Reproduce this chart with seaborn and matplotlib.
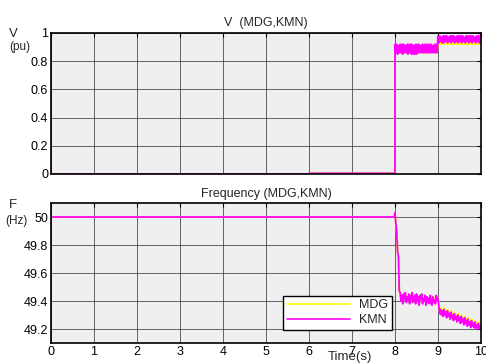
import numpy as np
import pandas as pd
import matplotlib
matplotlib.use("Agg")
import matplotlib.pyplot as plt
import seaborn as sns

# ---------------- data ----------------
# Voltage (pu): step points before 8 s, then sampled noisy segments
v_pre_t = [0.0, 6.0, 6.0, 8.0]
v_pre_kmn = [0.0, 0.0, 0.005, 0.005]
v_pre_mdg = [0.0, 0.0, 0.005, 0.005]

v_seg1_kmn = [0.92, 0.86, 0.92, 0.85, 0.91, 0.86, 0.92, 0.86, 0.92, 0.85, 0.92, 0.86, 0.91, 0.86,
              0.92, 0.85, 0.92, 0.86, 0.92, 0.85, 0.92, 0.85, 0.91, 0.85, 0.92, 0.85, 0.92, 0.86,
              0.92, 0.86, 0.91, 0.86, 0.92, 0.86, 0.92, 0.86, 0.92, 0.86, 0.92, 0.86, 0.92, 0.86,
              0.92, 0.86, 0.91, 0.86, 0.92, 0.86, 0.92, 0.86]
v_seg1_mdg = [0.91, 0.86, 0.91, 0.86, 0.91, 0.86, 0.91, 0.86, 0.91, 0.86, 0.91, 0.86, 0.91, 0.86,
              0.91, 0.86, 0.91, 0.86, 0.91, 0.86, 0.91, 0.86, 0.91, 0.86, 0.91, 0.86, 0.91, 0.86,
              0.91, 0.86, 0.91, 0.86, 0.91, 0.86, 0.91, 0.86, 0.91, 0.86, 0.91, 0.86, 0.91, 0.86,
              0.91, 0.86, 0.91, 0.86, 0.91, 0.86, 0.91, 0.86]
v_seg2_kmn = [0.98, 0.93, 0.98, 0.94, 0.97, 0.93, 0.98, 0.93, 0.98, 0.94, 0.98, 0.93, 0.97, 0.94,
              0.98, 0.93, 0.98, 0.94, 0.98, 0.93, 0.97, 0.94, 0.98, 0.93, 0.98, 0.94, 0.98, 0.93,
              0.98, 0.94, 0.97, 0.93, 0.98, 0.94, 0.98, 0.93, 0.98, 0.94, 0.98, 0.93, 0.98, 0.94,
              0.97, 0.93, 0.98, 0.94, 0.98, 0.93, 0.98, 0.93]
v_seg2_mdg = [0.96, 0.92, 0.96, 0.92, 0.96, 0.92, 0.96, 0.92, 0.96, 0.92, 0.96, 0.92, 0.96, 0.92,
              0.96, 0.92, 0.96, 0.92, 0.96, 0.92, 0.96, 0.92, 0.96, 0.92, 0.96, 0.92, 0.96, 0.92,
              0.96, 0.92, 0.96, 0.92, 0.96, 0.92, 0.96, 0.92, 0.96, 0.92, 0.96, 0.92, 0.96, 0.92,
              0.96, 0.92, 0.96, 0.92, 0.96, 0.92, 0.96, 0.92]

# Frequency (Hz)
f_pre_t = [0.0, 7.98, 8.00, 8.02, 8.04, 8.06, 8.08, 8.10]
f_pre_kmn = [50.0, 50.0, 50.03, 49.95, 49.90, 49.75, 49.72, 49.47]
f_pre_mdg = [50.0, 50.0, 50.02, 49.95, 49.90, 49.75, 49.72, 49.47]

f_seg1_kmn = [49.46, 49.40, 49.44, 49.38, 49.45, 49.41, 49.46, 49.39, 49.43, 49.40, 49.45, 49.38,
              49.44, 49.41, 49.46, 49.39, 49.42, 49.44, 49.38, 49.45, 49.40, 49.43, 49.37, 49.44,
              49.41, 49.45, 49.38, 49.42, 49.40, 49.44, 49.37, 49.43, 49.39, 49.42, 49.38, 49.44,
              49.40, 49.37, 49.43, 49.39, 49.41, 49.38, 49.44, 49.40, 49.42]
f_seg1_mdg = [49.45, 49.41, 49.44, 49.39, 49.45, 49.42, 49.45, 49.40, 49.43, 49.41, 49.44, 49.39,
              49.44, 49.42, 49.45, 49.40, 49.43, 49.44, 49.39, 49.44, 49.41, 49.43, 49.38, 49.44,
              49.42, 49.44, 49.39, 49.43, 49.41, 49.44, 49.38, 49.43, 49.40, 49.42, 49.39, 49.43,
              49.41, 49.38, 49.43, 49.40, 49.42, 49.39, 49.43, 49.41, 49.42]
f_seg2_kmn = [49.36, 49.31, 49.34, 49.30, 49.33, 49.29, 49.34, 49.30, 49.32, 49.28, 49.33, 49.29,
              49.31, 49.27, 49.32, 49.28, 49.30, 49.26, 49.31, 49.27, 49.29, 49.25, 49.30, 49.26,
              49.28, 49.24, 49.29, 49.25, 49.27, 49.23, 49.28, 49.24, 49.26, 49.22, 49.27, 49.23,
              49.25, 49.21, 49.26, 49.22, 49.24, 49.21, 49.25, 49.20, 49.23, 49.21, 49.24, 49.20,
              49.22, 49.21]
f_seg2_mdg = [49.37, 49.32, 49.35, 49.31, 49.34, 49.30, 49.35, 49.31, 49.33, 49.29, 49.34, 49.30,
              49.32, 49.28, 49.33, 49.29, 49.31, 49.27, 49.32, 49.28, 49.30, 49.26, 49.31, 49.27,
              49.29, 49.25, 49.30, 49.26, 49.28, 49.24, 49.29, 49.25, 49.27, 49.23, 49.28, 49.24,
              49.26, 49.22, 49.27, 49.23, 49.25, 49.22, 49.26, 49.21, 49.24, 49.22, 49.25, 49.21,
              49.23, 49.22]

x_ticks = [0, 1, 2, 3, 4, 5, 6, 7, 8, 9, 10]
v_ticks = [0, 0.2, 0.4, 0.6, 0.8, 1]
v_tick_labels = ["0", "0.2", "0.4", "0.6", "0.8", "1"]
f_ticks = [49.2, 49.4, 49.6, 49.8, 50]
f_tick_labels = ["49.2", "49.4", "49.6", "49.8", "50"]
series = ["MDG", "KMN"]

# ---------------- assemble ----------------
def build(pre_t, pre_vals, seg1, seg2, s1_start, s1_end, s2_start, s2_end):
    t = list(pre_t) + list(np.linspace(s1_start, s1_end, len(seg1))) + \
        list(np.linspace(s2_start, s2_end, len(seg2)))
    v = list(pre_vals) + list(seg1) + list(seg2)
    return t, v

frames_v, frames_f = [], []
for name, pv, s1, s2 in [("MDG", v_pre_mdg, v_seg1_mdg, v_seg2_mdg),
                         ("KMN", v_pre_kmn, v_seg1_kmn, v_seg2_kmn)]:
    t, v = build(v_pre_t, pv, s1, s2, 8.0, 8.98, 9.0, 10.0)
    frames_v.append(pd.DataFrame({"t": t, "val": v, "bus": name}))
for name, pv, s1, s2 in [("MDG", f_pre_mdg, f_seg1_mdg, f_seg2_mdg),
                         ("KMN", f_pre_kmn, f_seg1_kmn, f_seg2_kmn)]:
    t, v = build(f_pre_t, pv, s1, s2, 8.12, 9.0, 9.02, 10.0)
    frames_f.append(pd.DataFrame({"t": t, "val": v, "bus": name}))
df_v = pd.concat(frames_v, ignore_index=True)
df_f = pd.concat(frames_f, ignore_index=True)

# ---------------- plot ----------------
sns.set_style("white")
plt.rcParams["font.family"] = ["Liberation Sans", "DejaVu Sans"]
plt.rcParams["path.simplify"] = False

W, H = 486, 363
fig = plt.figure(figsize=(W / 100, H / 100), dpi=100)
ax1 = fig.add_axes([51 / W, 1 - 174 / H, 430 / W, 141 / H])
ax2 = fig.add_axes([51 / W, 1 - 343 / H, 430 / W, 140 / H])

palette = {"MDG": "#ffff00", "KMN": "#ff00ff"}

for ax, df in [(ax1, df_v), (ax2, df_f)]:
    ax.set_facecolor("#efefef")
    sns.lineplot(data=df, x="t", y="val", hue="bus", hue_order=series, palette=palette,
                 estimator=None, sort=False, linewidth=1.3, ax=ax, legend=(ax is ax2))
    ax.set_xlim(0, 10)
    ax.set_xticks(x_ticks)
    ax.grid(True, color="#333333", linewidth=0.7, alpha=0.75)
    ax.set_axisbelow(True)
    ax.tick_params(direction="in", length=3, width=0.8, top=True, right=True,
                   labelsize=9, pad=2, colors="black")
    for s in ax.spines.values():
        s.set_color("black")
        s.set_linewidth(1.2)
    ax.set_xlabel("")
    ax.set_ylabel("")

ax1.set_ylim(0, 1)
ax1.set_yticks(v_ticks)
ax1.set_yticklabels(v_tick_labels)
ax1.set_xticklabels([])
ax1.set_title("V  (MDG,KMN)", fontsize=9, pad=5)

ax2.set_ylim(49.1, 50.1)
ax2.set_yticks(f_ticks)
ax2.set_yticklabels(f_tick_labels)
ax2.set_xticklabels([str(x) for x in x_ticks])
ax2.set_title("Frequency (MDG,KMN)", fontsize=9, pad=4)

# axis labels placed like the original
fig.text(13 / W, 1 - 34 / H, "V", fontsize=9.5, ha="center", va="center")
fig.text(20 / W, 1 - 47 / H, "(pu)", fontsize=8.5, ha="center", va="center")
fig.text(13 / W, 1 - 205 / H, "F", fontsize=9.5, ha="center", va="center")
fig.text(16 / W, 1 - 221 / H, "(Hz)", fontsize=8.5, ha="center", va="center")
fig.text(350 / W, 1 - 357 / H, "Time(s)", fontsize=9.5, ha="center", va="center")

leg = ax2.legend(loc="lower left", bbox_to_anchor=(226 / 430, 7 / 140), frameon=True,
                 fancybox=False, edgecolor="black", framealpha=1, fontsize=9,
                 handlelength=5, markerfirst=True, borderpad=0.3, labelspacing=0.2)
leg.get_frame().set_linewidth(1.0)
for line in leg.get_lines():
    line.set_linewidth(1.2)

fig.savefig("out.png", dpi=100, facecolor="white")
